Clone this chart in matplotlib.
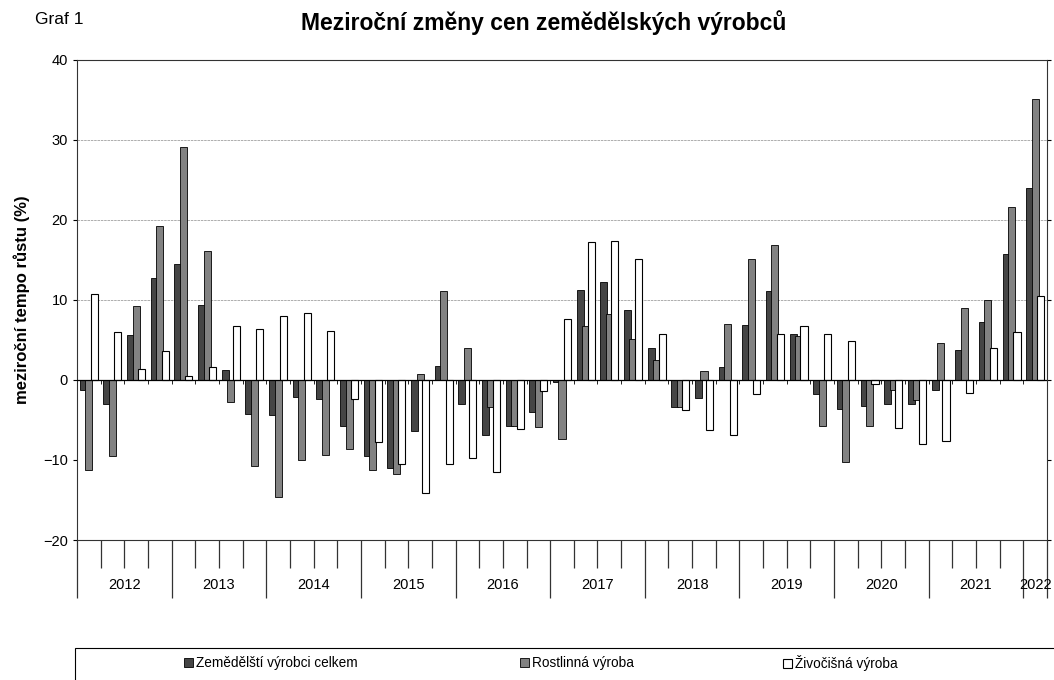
import numpy as np
import matplotlib
matplotlib.use('Agg')
import matplotlib.pyplot as plt
import matplotlib.transforms as mtransforms
from matplotlib.patches import Rectangle

plt.rcParams['font.family'] = ['Liberation Sans', 'DejaVu Sans']

# čtvrtletí 2012 Q1 .. 2022 Q1
years = [2012, 2013, 2014, 2015, 2016, 2017, 2018, 2019, 2020, 2021, 2022]
celkem = [-1.3, -3.0, 5.6, 12.7, 14.5, 9.4, 1.2, -4.2, -4.4, -2.1, -2.4, -5.8,
          -9.5, -11.0, -6.4, 1.7, -3.0, -6.9, -5.7, -4.0, -0.2, 11.3, 12.2, 8.8,
          4.0, -3.4, -2.3, 1.6, 6.9, 11.1, 5.8, -1.7, -3.6, -3.2, -3.0, -3.0,
          -1.2, 3.8, 7.2, 15.8, 24.0]
rostlinna = [-11.2, -9.5, 9.2, 19.2, 29.1, 16.1, -2.8, -10.8, -14.6, -10.0, -9.4, -8.6,
             -11.3, -11.8, 0.7, 11.1, 4.0, -3.4, -5.8, -5.9, -7.4, 6.8, 8.2, 5.1,
             2.5, -3.4, 1.1, 7.0, 15.1, 16.9, 5.5, -5.8, -10.2, -5.8, -1.2, -2.5,
             4.6, 9.0, 10.0, 21.6, 35.1]
zivocisna = [10.8, 6.0, 1.4, 3.6, 0.5, 1.6, 6.8, 6.4, 8.0, 8.4, 6.1, -2.4,
             -7.8, -10.5, -14.1, -10.5, -9.7, -11.5, -6.1, -1.4, 7.6, 17.2, 17.4, 15.1,
             5.8, -3.7, -6.3, -6.9, -1.8, 5.7, 6.8, 5.8, 4.9, -0.5, -6.0, -8.0,
             -7.6, -1.6, 4.0, 6.0, 10.5]
labels = ['Zemědělští výrobci celkem', 'Rostlinná výroba', 'Živočišná výroba']

W, H = 1054, 680
fig = plt.figure(figsize=(W / 100, H / 100), dpi=100)
ax = fig.add_axes([77 / W, 1 - 540 / H, (1047 - 77) / W, 480 / H])

n = len(celkem)
x = np.arange(n) + 0.5
bw = 0.3
b1 = ax.bar(x - 0.23, celkem, width=bw, color='#454545', edgecolor='black', linewidth=0.6, zorder=3)
b2 = ax.bar(x, rostlinna, width=bw, color='#828282', edgecolor='black', linewidth=0.6, zorder=4)
b3 = ax.bar(x + 0.23, zivocisna, width=bw, color='white', edgecolor='black', linewidth=0.8, zorder=5)

ax.set_xlim(0, n)
ax.set_ylim(-20, 40)

# mřížka a nulová osa
for v in (10, 20, 30):
    ax.axhline(v, color='#a0a0a0', linewidth=0.6, linestyle=(0, (3, 1)), zorder=1)
ax.axhline(0, color='black', linewidth=0.9, zorder=6)
ax.vlines(np.arange(1, n), -0.45, 0, color='black', linewidth=0.6, zorder=6)

ax.set_yticks(range(-20, 41, 10))
ax.tick_params(axis='y', labelsize=10.5, length=3, direction='out', right=True)
for s in ax.spines.values():
    s.set_linewidth(0.8)
    s.set_color('#333333')

# kategorie: roky a čtvrtletí
year_start = [4 * i for i in range(len(years))]
major = year_start + [n]
ax.set_xticks(major)
ax.set_xticks([q for q in range(n) if q not in major], minor=True)
ax.set_xticklabels([])
ax.tick_params(axis='x', which='major', length=42, width=0.9, color='#333333')
ax.tick_params(axis='x', which='minor', length=20, width=0.9, color='#333333')
trans = mtransforms.blended_transform_factory(ax.transData, ax.transAxes)
for yr, st in zip(years, year_start):
    center = (st + min(st + 4, n)) / 2
    ax.text(center, -0.094, str(yr), transform=trans, ha='center', va='center', fontsize=10.5)

fig.text(35 / W, 1 - 19 / H, 'Graf 1', ha='left', va='center', fontsize=12.5)
fig.text(544 / W, 1 - 23 / H, 'Meziroční změny cen zemědělských výrobců',
         ha='center', va='center', fontsize=16.5, fontweight='bold')
fig.text(22 / W, 1 - 300 / H, 'meziroční tempo růstu (%)', rotation=90,
         ha='center', va='center', fontsize=12, fontweight='bold')

# legenda
fig.add_artist(Rectangle((75 / W, -0.02), 1.0, (H - 648) / H + 0.02, transform=fig.transFigure,
                         fill=False, edgecolor='black', linewidth=0.8))
for handle, lab, xp in zip([b1, b2, b3], labels, [184, 520, 783]):
    fig.legend([handle], [lab], loc='center left', bbox_to_anchor=(xp / W, 1 - 663 / H),
               frameon=False, fontsize=9.8, handlelength=0.65, handleheight=0.65,
               handletextpad=0.2, borderpad=0, borderaxespad=0)

fig.savefig('out.png', dpi=100)
